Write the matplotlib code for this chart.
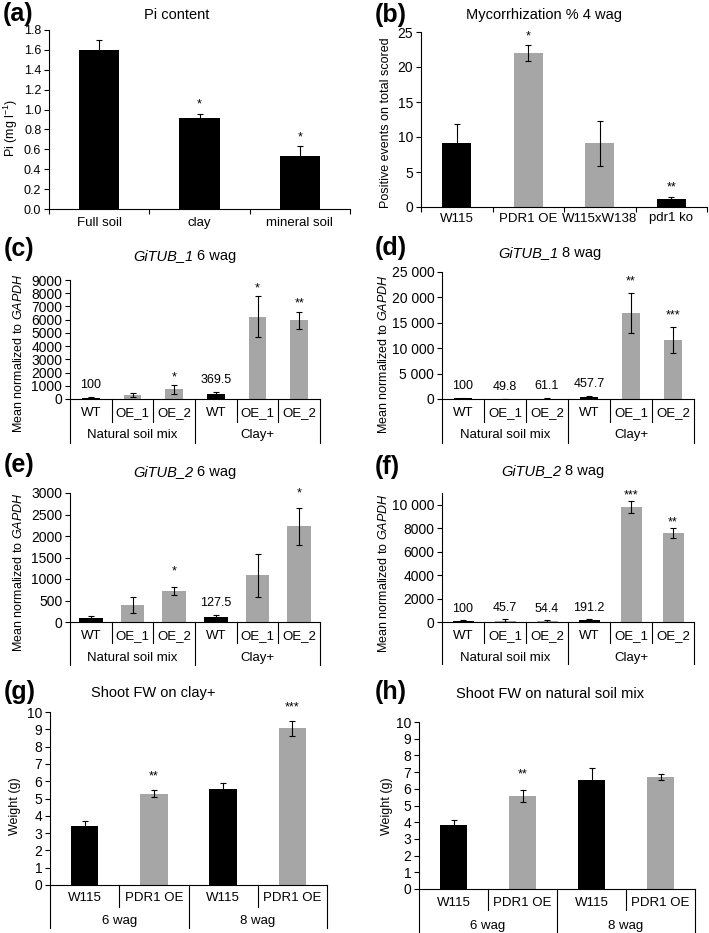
import numpy as np
import matplotlib.pyplot as plt

plt.rcParams['font.family'] = 'Liberation Sans'
plt.rcParams['mathtext.fontset'] = 'custom'
plt.rcParams['mathtext.rm'] = 'Liberation Sans'
plt.rcParams['mathtext.it'] = 'Liberation Sans:italic'

# (a) Pi content
soil_types = ['Full soil', 'clay', 'mineral soil']
pi_mean = [1.60, 0.92, 0.535]
pi_err = [0.10, 0.04, 0.095]
pi_stars = ['', '*', '*']

# (b) mycorrhization
myc_lines = ['W115', 'PDR1 OE', 'W115xW138', 'pdr1 ko']
myc_mean = [9.2, 22.0, 9.1, 1.1]
myc_err = [2.7, 1.1, 3.2, 0.4]
myc_stars = ['', '*', '', '**']

# (c)-(f) GiTUB expression
genotypes = ['WT', 'OE_1', 'OE_2', 'WT', 'OE_1', 'OE_2']
soils = ['Natural soil mix', 'Clay+']

tub1_6_mean = [100, 270, 720, 369.5, 6230, 5950]
tub1_6_err = [50, 150, 340, 150, 1550, 665]
tub1_6_stars = ['', '', '*', '', '*', '**']
tub1_6_shown = ['100', '', '', '369.5', '', '']

tub1_8_mean = [100, 49.8, 61.1, 457.7, 16900, 11670]
tub1_8_err = [60, 40, 50, 200, 4000, 2600]
tub1_8_stars = ['', '', '', '', '**', '***']
tub1_8_shown = ['100', '49.8', '61.1', '457.7', '', '']

tub2_6_mean = [100, 405, 717, 127.5, 1083, 2221]
tub2_6_err = [30, 185, 100, 25, 500, 425]
tub2_6_stars = ['', '', '*', '', '', '*']
tub2_6_shown = ['', '', '', '127.5', '', '']

tub2_8_mean = [100, 45.7, 54.4, 191.2, 9800, 7600]
tub2_8_err = [30, 190, 90, 40, 540, 450]
tub2_8_stars = ['', '', '', '', '***', '**']
tub2_8_shown = ['100', '45.7', '54.4', '191.2', '', '']

# (g)-(h) shoot fresh weight
fw_lines = ['W115', 'PDR1 OE', 'W115', 'PDR1 OE']
fw_ages = ['6 wag', '8 wag']
fw_clay_mean = [3.40, 5.28, 5.57, 9.05]
fw_clay_err = [0.30, 0.19, 0.33, 0.43]
fw_clay_stars = ['', '**', '', '***']
fw_nat_mean = [3.86, 5.56, 6.55, 6.71]
fw_nat_err = [0.30, 0.37, 0.72, 0.16]
fw_nat_stars = ['', '**', '', '']

BLACK = '#000000'
GRAY = '#a6a6a6'
W, H = 709, 933
CAT_FS = 9.5

fig = plt.figure(figsize=(W / 100, H / 100), dpi=100)
renderer = fig.canvas.get_renderer()


def ftext(x, y, s, **kw):
    kw.setdefault('ha', 'center')
    kw.setdefault('va', 'center')
    return fig.text(x / W, 1 - y / H, s, **kw)


def italic_title(x, y, it_part, rm_part, size=10.5):
    # italic gene name followed by upright text, centred on x as a whole
    t1 = ftext(0, y, it_part, ha='left', fontstyle='italic', fontsize=size)
    t2 = ftext(0, y, rm_part, ha='left', fontsize=size)
    w1 = t1.get_window_extent(renderer).width
    w2 = t2.get_window_extent(renderer).width
    gap = 0.28 * size / 0.72
    x0 = x - (w1 + gap + w2) / 2
    t1.set_x(x0 / W)
    t2.set_x((x0 + w1 + gap) / W)


def add_ax(l, t, r, b, tick_fs):
    ax = fig.add_axes([l / W, 1 - b / H, (r - l) / W, (b - t) / H])
    for s in ['top', 'right']:
        ax.spines[s].set_visible(False)
    for s in ['left', 'bottom']:
        ax.spines[s].set_linewidth(0.8)
    ax.tick_params(axis='y', direction='out', length=3.5, width=0.8, pad=2,
                   labelsize=tick_fs)
    return ax


def bars(ax, labels, means, errs, dark, width):
    x = np.arange(len(means))
    colors = [BLACK if lab in dark else GRAY for lab in labels]
    ax.bar(x, means, width, color=colors, zorder=2)
    ax.errorbar(x, means, yerr=errs, fmt='none', ecolor='black', elinewidth=0.8,
                capsize=2.2, capthick=0.8, zorder=3)
    ax.set_xlim(-0.5, len(means) - 0.5)
    return x


def marks(ax, x, means, errs, texts, off_px, lift):
    # text centred off_px pixels above the top of the error bar
    for xi, m, e, t in zip(x, means, errs, texts):
        if t:
            ax.annotate(t, (xi, m + e), xytext=(0, (off_px - lift) * 0.72),
                        textcoords='offset points', ha='center', va='center',
                        fontsize=9, annotation_clip=False)


def y_axis(ax, lim, ticks, ticklabels):
    ax.set_ylim(*lim)
    ax.set_yticks(ticks)
    ax.set_yticklabels(ticklabels)


def simple_x(ax, labels, text_px):
    n = len(labels)
    ax.set_xticks(np.arange(n + 1) - 0.5)
    ax.set_xticklabels([])
    ax.tick_params(axis='x', direction='out', length=3.5, width=0.8)
    h = ax.bbox.height
    for i, lab in enumerate(labels):
        ax.text(i, -text_px / h, lab, transform=ax.get_xaxis_transform(),
                ha='center', va='center', fontsize=CAT_FS)


def two_level_x(ax, labels, groups, rows):
    t1, l1, t2, l2 = rows
    n = len(labels)
    per = n // len(groups)
    ax.set_xticks([])
    h = ax.bbox.height
    tr = ax.get_xaxis_transform()
    for i in range(n + 1):
        depth = l2 if i % per == 0 else l1
        ax.plot([i - 0.5, i - 0.5], [0, -depth / h], transform=tr, color='black',
                lw=0.8, clip_on=False)
    for i, lab in enumerate(labels):
        ax.text(i, -t1 / h, lab, transform=tr, ha='center', va='center', fontsize=CAT_FS)
    for g, name in enumerate(groups):
        ax.text(g * per + (per - 1) / 2, -t2 / h, name, transform=tr,
                ha='center', va='center', fontsize=CAT_FS)


def heading(letter, lx, ly, ylabel, yx, yy):
    ftext(lx, ly, letter, ha='left', fontsize=18, fontweight='bold')
    ftext(yx, yy, ylabel, rotation=90, fontsize=9)


gapdh = r'Mean normalized to $\mathit{GAPDH}$'

# (a)
ax = add_ax(49, 30, 350, 209, 9)
x = bars(ax, soil_types, pi_mean, pi_err, soil_types, 0.4)
ticks = np.arange(0, 1.81, 0.2)
y_axis(ax, (0, 1.8), ticks, ['%.1f' % t for t in ticks])
simple_x(ax, soil_types, 14)
marks(ax, x, pi_mean, pi_err, pi_stars, 13, 4)
heading('(a)', 3, 14, r'Pi (mg l$^{-1}$)', 11, 128)
ftext(177, 15, 'Pi content', fontsize=10.5)

# (b)
ax = add_ax(421, 32, 707, 207, 10)
x = bars(ax, myc_lines, myc_mean, myc_err, ['W115', 'pdr1 ko'], 0.4)
y_axis(ax, (0, 25), range(0, 26, 5), [str(t) for t in range(0, 26, 5)])
simple_x(ax, myc_lines, 11.5)
marks(ax, x, myc_mean, myc_err, myc_stars, 13, 4)
heading('(b)', 375, 15, 'Positive events on total scored', 386, 123)
ftext(544, 15, 'Mycorrhization % 4 wag', fontsize=10.5)

# (c)
ax = add_ax(70, 280, 320, 399, 10)
x = bars(ax, genotypes, tub1_6_mean, tub1_6_err, ['WT'], 0.42)
y_axis(ax, (0, 9000), range(0, 9001, 1000), [str(t) for t in range(0, 9001, 1000)])
two_level_x(ax, genotypes, soils, (14, 22.5, 36, 44))
marks(ax, x, tub1_6_mean, tub1_6_err, tub1_6_stars, 12, 4)
marks(ax, x, tub1_6_mean, tub1_6_err, tub1_6_shown, 13, 1)
heading('(c)', 4, 249, gapdh, 19, 353)
italic_title(185, 256, 'GiTUB_1', '6 wag')

# (d)
ax = add_ax(442, 272, 694, 399, 10)
x = bars(ax, genotypes, tub1_8_mean, tub1_8_err, ['WT'], 0.41)
y_axis(ax, (0, 25000), range(0, 25001, 5000),
       ['0', '5 000', '10 000', '15 000', '20 000', '25 000'])
two_level_x(ax, genotypes, soils, (14, 22.5, 36, 44))
marks(ax, x, tub1_8_mean, tub1_8_err, tub1_8_stars, 15, 4)
marks(ax, x, tub1_8_mean, tub1_8_err, tub1_8_shown, 13, 1)
heading('(d)', 375, 248, gapdh, 383, 354)
italic_title(550, 253, 'GiTUB_1', '8 wag')

# (e)
ax = add_ax(70, 493, 320, 622, 10)
x = bars(ax, genotypes, tub2_6_mean, tub2_6_err, ['WT'], 0.57)
y_axis(ax, (0, 3000), range(0, 3001, 500), [str(t) for t in range(0, 3001, 500)])
two_level_x(ax, genotypes, soils, (14, 21, 36, 43))
marks(ax, x, tub2_6_mean, tub2_6_err, tub2_6_stars, 19, 4)
marks(ax, x, tub2_6_mean, tub2_6_err, tub2_6_shown, 13, 1)
heading('(e)', 4, 465, gapdh, 19, 572)
italic_title(185, 472, 'GiTUB_2', '6 wag')

# (f)
ax = add_ax(442, 493, 694, 622, 10)
x = bars(ax, genotypes, tub2_8_mean, tub2_8_err, ['WT'], 0.5)
y_axis(ax, (0, 11000), range(0, 10001, 2000),
       ['0', '2000', '4000', '6000', '8000', '10 000'])
two_level_x(ax, genotypes, soils, (14, 21, 36, 42))
marks(ax, x, tub2_8_mean, tub2_8_err, tub2_8_stars, 9, 4)
marks(ax, x, tub2_8_mean, tub2_8_err, tub2_8_shown, 12, 1)
heading('(f)', 375, 467, gapdh, 383, 573)
italic_title(553, 471, 'GiTUB_2', '8 wag')

# (g)
ax = add_ax(50, 712, 327, 885, 10)
x = bars(ax, fw_lines, fw_clay_mean, fw_clay_err, ['W115'], 0.4)
y_axis(ax, (0, 10), range(0, 11), [str(t) for t in range(0, 11)])
two_level_x(ax, fw_lines, fw_ages, (13, 22, 36, 43))
marks(ax, x, fw_clay_mean, fw_clay_err, fw_clay_stars, 18, 4)
heading('(g)', 4, 692, 'Weight (g)', 15, 806)
ftext(153, 693, 'Shoot FW on clay+', fontsize=10.5)

# (h)
ax = add_ax(419, 722, 695, 889, 10)
x = bars(ax, fw_lines, fw_nat_mean, fw_nat_err, ['W115'], 0.4)
y_axis(ax, (0, 10), range(0, 11), [str(t) for t in range(0, 11)])
two_level_x(ax, fw_lines, fw_ages, (14, 21, 37, 44))
marks(ax, x, fw_nat_mean, fw_nat_err, fw_nat_stars, 20, 4)
heading('(h)', 375, 692, 'Weight (g)', 387, 806)
ftext(550, 694, 'Shoot FW on natural soil mix', fontsize=10.5)

fig.savefig('out.png', dpi=100)
